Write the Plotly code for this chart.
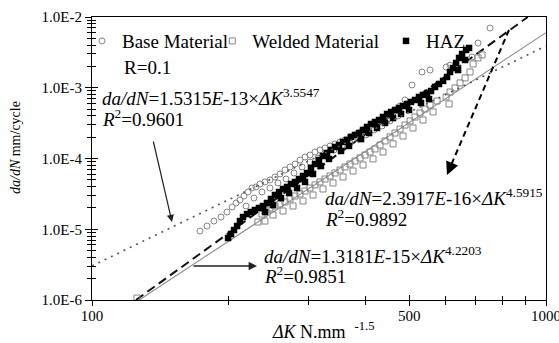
import plotly.graph_objects as go

# ---------------- data ----------------
base_dk = [172.9, 179.2, 185.6, 192.4, 198.3, 203.5, 207.6, 211.8, 216.1, 220.6,
           225.1, 229.7, 234.4, 240.4, 246.6, 252.9, 259.5, 266.2, 273.0, 280.0,
           287.2, 294.6, 302.1, 309.9, 317.8, 326.0, 334.4, 343.0, 351.8, 360.8,
           370.1, 379.6, 389.4, 399.4, 409.6, 420.1, 430.9, 442.0, 453.4, 465.0,
           476.9, 489.2, 506.8, 533.2, 555.4, 602.4, 614.7, 687.2, 708.5, 752.9,
           218.4, 227.4, 236.8, 246.6, 256.8, 267.5, 278.6, 290.1, 302.1, 314.6,
           327.7, 341.3, 355.4, 370.1, 385.5, 401.5, 418.0, 435.3, 453.4, 472.1]
base_dadn = [9.44e-6, 1.11e-5, 1.307e-5, 1.489e-5, 1.752e-5, 2.06e-5, 2.35e-5, 2.59e-5, 2.95e-5, 3.36e-5,
             3.83e-5, 3.96e-5, 4.36e-5, 4.66e-5, 4.97e-5, 5.48e-5, 6.04e-5, 6.88e-5, 7.59e-5, 8.36e-5,
             9.52e-5, 1.05e-4, 1.12e-4, 1.237e-4, 1.32e-4, 1.409e-4, 1.504e-4, 1.607e-4, 1.715e-4, 1.83e-4,
             2.02e-4, 2.15e-4, 2.37e-4, 2.61e-4, 2.88e-4, 3.17e-4, 3.50e-4, 3.86e-4, 4.26e-4, 4.85e-4,
             5.52e-4, 6.72e-4, 1.095e-3, 1.67e-3, 1.78e-3, 1.96e-3, 2.09e-3, 2.72e-3, 4.29e-3, 6.98e-3,
             2.13e-5, 2.76e-5, 3.36e-5, 3.83e-5, 4.51e-5, 5.13e-5, 6.24e-5, 7.59e-5, 8.92e-5, 1.016e-4,
             1.159e-4, 1.32e-4, 1.504e-4, 1.66e-4, 1.89e-4, 2.15e-4, 2.53e-4, 2.88e-4, 3.39e-4, 3.99e-4]

welded_dk = [125.6,
             232.0, 236.8, 241.7, 246.6, 252.9, 259.5, 266.2, 273.0, 280.0, 287.2,
             294.6, 302.1, 309.9, 317.8, 326.0, 334.4, 343.0, 351.8, 360.8, 370.1,
             379.6, 389.4, 399.4, 409.6, 420.1, 430.9, 442.0, 453.4, 465.0, 476.9,
             489.2, 501.7, 514.6, 527.8, 541.4, 555.4, 575.5, 602.4, 614.7, 630.5,
             646.7, 663.3, 680.3, 690.8, 708.5, 723.0,
             240.4, 250.4, 263.5, 277.2, 291.6, 306.8, 322.7, 339.5, 357.2, 375.8,
             395.4, 415.9, 437.5, 460.4, 484.2, 509.4, 535.9, 564.0, 611.7]
welded_dadn = [1.066e-6,
               1.265e-5, 1.64e-5, 1.87e-5, 2.00e-5, 2.13e-5, 2.27e-5, 2.43e-5, 2.68e-5, 2.95e-5, 3.15e-5,
               3.47e-5, 3.83e-5, 4.23e-5, 4.66e-5, 5.13e-5, 5.66e-5, 6.24e-5, 6.88e-5, 7.59e-5, 8.36e-5,
               9.21e-5, 1.016e-4, 1.12e-4, 1.237e-4, 1.364e-4, 1.553e-4, 1.771e-4, 2.02e-4, 2.29e-4, 2.61e-4,
               2.97e-4, 3.39e-4, 3.86e-4, 4.40e-4, 5.01e-4, 5.71e-4, 6.50e-4, 7.41e-4, 8.71e-4, 9.93e-4,
               1.17e-3, 1.377e-3, 1.67e-3, 2.17e-3, 2.64e-3, 2.91e-3,
               1.306e-5, 1.59e-5, 1.81e-5, 2.13e-5, 2.51e-5, 3.05e-5, 3.71e-5, 4.51e-5, 5.48e-5, 6.66e-5,
               8.09e-5, 9.85e-5, 1.236e-4, 1.61e-4, 2.08e-4, 2.70e-4, 3.50e-4, 4.55e-4, 5.90e-4]

haz_dk = [199.4, 202.4, 205.5, 208.7, 211.8, 215.1, 219.5, 223.9, 228.5, 233.2,
          238.0, 242.9, 247.9, 252.9, 258.2, 263.5, 268.9, 274.4, 280.0, 285.7,
          291.6, 297.6, 303.6, 309.9, 316.2, 322.7, 329.3, 336.1, 343.0, 350.0,
          357.2, 364.5, 372.0, 379.6, 387.4, 395.4, 403.5, 411.7, 420.1, 428.7,
          437.5, 446.5, 455.7, 465.0, 474.5, 484.2, 494.2, 504.3, 514.6, 525.1,
          535.9, 546.9, 558.2, 569.7, 581.3, 593.3, 605.4, 614.7, 624.2, 633.8,
          643.4, 653.3, 666.7, 676.8, 640.2, 663.3,
          240.4, 250.4, 260.8, 271.6, 282.9, 294.6, 306.7, 319.4, 332.7, 353.6,
          368.2, 391.4, 407.6, 424.4, 442.0, 460.3, 479.3, 499.2, 530.4, 552.5]
haz_dadn = [7.52e-6, 8.56e-6, 9.75e-6, 1.11e-5, 1.307e-5, 1.489e-5, 1.64e-5, 1.752e-5, 1.87e-5, 2.00e-5,
            2.13e-5, 2.35e-5, 2.68e-5, 3.05e-5, 3.36e-5, 3.71e-5, 3.96e-5, 4.36e-5, 4.66e-5, 5.13e-5,
            5.66e-5, 6.24e-5, 7.34e-5, 8.36e-5, 9.52e-5, 1.086e-4, 1.197e-4, 1.32e-4, 1.455e-4, 1.553e-4,
            1.715e-4, 1.83e-4, 2.02e-4, 2.15e-4, 2.29e-4, 2.53e-4, 2.79e-4, 3.07e-4, 3.28e-4, 3.50e-4,
            3.86e-4, 4.26e-4, 4.54e-4, 4.85e-4, 5.18e-4, 5.52e-4, 5.90e-4, 6.30e-4, 6.72e-4, 7.41e-4,
            7.91e-4, 8.43e-4, 9.00e-4, 1.025e-3, 1.13e-3, 1.25e-3, 1.42e-3, 1.67e-3, 1.90e-3, 2.24e-3,
            2.64e-3, 3.00e-3, 3.42e-3, 3.65e-3, 1.78e-3, 2.47e-3,
            1.75e-5, 2.20e-5, 2.76e-5, 3.26e-5, 3.83e-5, 4.66e-5, 6.04e-5, 7.83e-5, 9.85e-5, 1.277e-4,
            1.505e-4, 1.88e-4, 2.29e-4, 2.70e-4, 3.18e-4, 3.73e-4, 4.26e-4, 4.85e-4, 6.10e-4, 6.93e-4]

# fitted lines as drawn (end points)
base_fit_dk = [100, 1000]
base_fit_dadn = [3.03e-6, 3.9e-3]
welded_fit_dk = [127, 1000]
welded_fit_dadn = [1.0e-6, 6.0e-3]
haz_fit_dk = [125, 912]
haz_fit_dadn = [1.0e-6, 1.0e-2]

x_ticks = [100, 500, 1000]
x_ticktext = ["100", "500", "1000"]
x_minor = [200, 300, 400, 600, 700, 800, 900]
y_ticks = [1e-6, 1e-5, 1e-4, 1e-3, 1e-2]
y_ticktext = ["1.0E-6", "1.0E-5", "1.0E-4", "1.0E-3", "1.0E-2"]
y_minor = [m * 10.0 ** e for e in range(-6, -2) for m in range(2, 10)]

series_names = ["Base Material", "Welded Material", "HAZ"]

FONT = "Liberation Serif, Times New Roman, serif"
GREY = "#858585"

fig = go.Figure()

# fit lines
fig.add_trace(go.Scatter(x=base_fit_dk, y=base_fit_dadn, mode="lines",
                         line=dict(color="#555555", width=1.6, dash="2px,5px"),
                         showlegend=False, hoverinfo="skip", xaxis="x2", yaxis="y2"))
fig.add_trace(go.Scatter(x=welded_fit_dk, y=welded_fit_dadn, mode="lines",
                         line=dict(color="#8c8c8c", width=1.1),
                         showlegend=False, hoverinfo="skip"))
fig.add_trace(go.Scatter(x=haz_fit_dk, y=haz_fit_dadn, mode="lines",
                         line=dict(color="#111111", width=2, dash="9px,5px"),
                         showlegend=False, hoverinfo="skip"))

# data
fig.add_trace(go.Scatter(x=welded_dk, y=welded_dadn, mode="markers", name=series_names[1],
                         marker=dict(symbol="square-open", size=6, color=GREY, line=dict(width=1, color=GREY)),
                         legend="legend2"))
fig.add_trace(go.Scatter(x=base_dk, y=base_dadn, mode="markers", name=series_names[0],
                         marker=dict(symbol="circle-open", size=6, color=GREY, line=dict(width=1, color=GREY)),
                         legend="legend"))
fig.add_trace(go.Scatter(x=haz_dk, y=haz_dadn, mode="markers", name=series_names[2],
                         marker=dict(symbol="square", size=6.5, color="black", line=dict(width=0)),
                         legend="legend3"))

axis_common = dict(type="log", showgrid=False, zeroline=False, color="black")
leg_common = dict(y=0.915, xanchor="left", yanchor="middle", orientation="h",
                  font=dict(size=19), bgcolor="rgba(0,0,0,0)", itemwidth=30)
fig.update_layout(
    width=559, height=343,
    margin=dict(l=92, r=13, t=17, b=43, autoexpand=False),
    paper_bgcolor="white", plot_bgcolor="white",
    font=dict(family=FONT, size=15, color="black"),
    xaxis=dict(**axis_common, range=[2, 3], tickvals=x_ticks, ticktext=x_ticktext,
               ticks="outside", ticklen=5, tickwidth=1, tickcolor="black",
               minor=dict(tickvals=x_minor, ticks="outside", ticklen=4, tickcolor="black"),
               showline=True, linecolor="black", linewidth=1, mirror=True,
               tickfont=dict(size=15), ticklabelstandoff=-3, automargin=False,
               ticklabeloverflow="allow"),
    yaxis=dict(**axis_common, range=[-6, -2], tickvals=y_ticks, ticktext=y_ticktext,
               ticks="outside", ticklen=6, tickwidth=1, tickcolor="black",
               minor=dict(tickvals=y_minor, ticks="outside", ticklen=4, tickcolor="black"),
               showline=True, linecolor="black", linewidth=1, mirror=True,
               tickfont=dict(size=15), automargin=False, ticklabeloverflow="allow"),
    xaxis2=dict(**axis_common, range=[2, 3], overlaying="x", anchor="y2", side="bottom",
                tickvals=x_ticks, showticklabels=False, ticks="inside", ticklen=5, tickcolor="black",
                minor=dict(tickvals=x_minor, ticks="inside", ticklen=4, tickcolor="black"),
                showline=False, automargin=False),
    yaxis2=dict(**axis_common, range=[-6, -2], overlaying="y", anchor="x2", side="left",
                tickvals=y_ticks, showticklabels=False, ticks="inside", ticklen=6, tickcolor="black",
                minor=dict(tickvals=y_minor, ticks="inside", ticklen=4, tickcolor="black"),
                showline=False, automargin=False),
    legend=dict(x=-0.022, **leg_common),
    legend2=dict(x=0.265, **leg_common),
    legend3=dict(x=0.6476, **leg_common),
)

def px_x(px):
    return (px - 92) / 454.0

def px_y(py):
    return (300 - py) / 283.0

texts = [
    ("R=0.1", 122, 67),
    ("<i>da/dN</i>=1.5315<i>E</i>-13×<i>ΔK</i><sup>3.5547</sup>", 100, 97),
    ("<i>R</i><sup>2</sup>=0.9601", 100, 118),
    ("<i>da/dN</i>=2.3917<i>E</i>-16×<i>ΔK</i><sup>4.5915</sup>", 323, 197),
    ("<i>R</i><sup>2</sup>=0.9892", 323, 218),
    ("<i>da/dN</i>=1.3181<i>E</i>-15×<i>ΔK</i><sup>4.2203</sup>", 262, 255),
    ("<i>R</i><sup>2</sup>=0.9851", 262, 275),
]
for t, x, y in texts:
    fig.add_annotation(text=t, xref="paper", yref="paper", x=px_x(x), y=px_y(y),
                       xanchor="left", yanchor="middle", showarrow=False,
                       font=dict(family=FONT, size=19, color="black"))

# arrows
fig.add_annotation(xref="paper", yref="paper", x=px_x(172), y=px_y(222), ax=-19, ay=-82,
                   text="", showarrow=True, arrowhead=2, arrowsize=1.2, arrowwidth=1.2, arrowcolor="#222")
fig.add_annotation(xref="paper", yref="paper", x=px_x(257), y=px_y(266), ax=-65, ay=0,
                   text="", showarrow=True, arrowhead=2, arrowsize=1.2, arrowwidth=1.4, arrowcolor="#222")
fig.add_shape(type="line", xref="paper", yref="paper", x0=px_x(509), y0=px_y(30),
              x1=px_x(452), y1=px_y(163), line=dict(color="black", width=2, dash="6px,4px"))
fig.add_annotation(xref="paper", yref="paper", x=px_x(447), y=px_y(175), ax=6, ay=-14,
                   text="", showarrow=True, arrowhead=2, arrowsize=1.3, arrowwidth=2, arrowcolor="black")

# axis titles
fig.add_annotation(text="<i>da/dN</i> mm/cycle", xref="paper", yref="paper",
                   x=px_x(15), y=px_y(148), textangle=-90, showarrow=False,
                   xanchor="center", yanchor="middle", font=dict(family=FONT, size=14))
fig.add_annotation(text="<i>ΔK</i> N.mm&nbsp; <sup>-1.5</sup>", xref="paper", yref="paper",
                   x=px_x(270), y=px_y(331), showarrow=False,
                   xanchor="left", yanchor="middle", font=dict(family=FONT, size=18))

fig.write_html("out.html", config={"displayModeBar": False},
               post_script="document.body.style.margin='0px';")
